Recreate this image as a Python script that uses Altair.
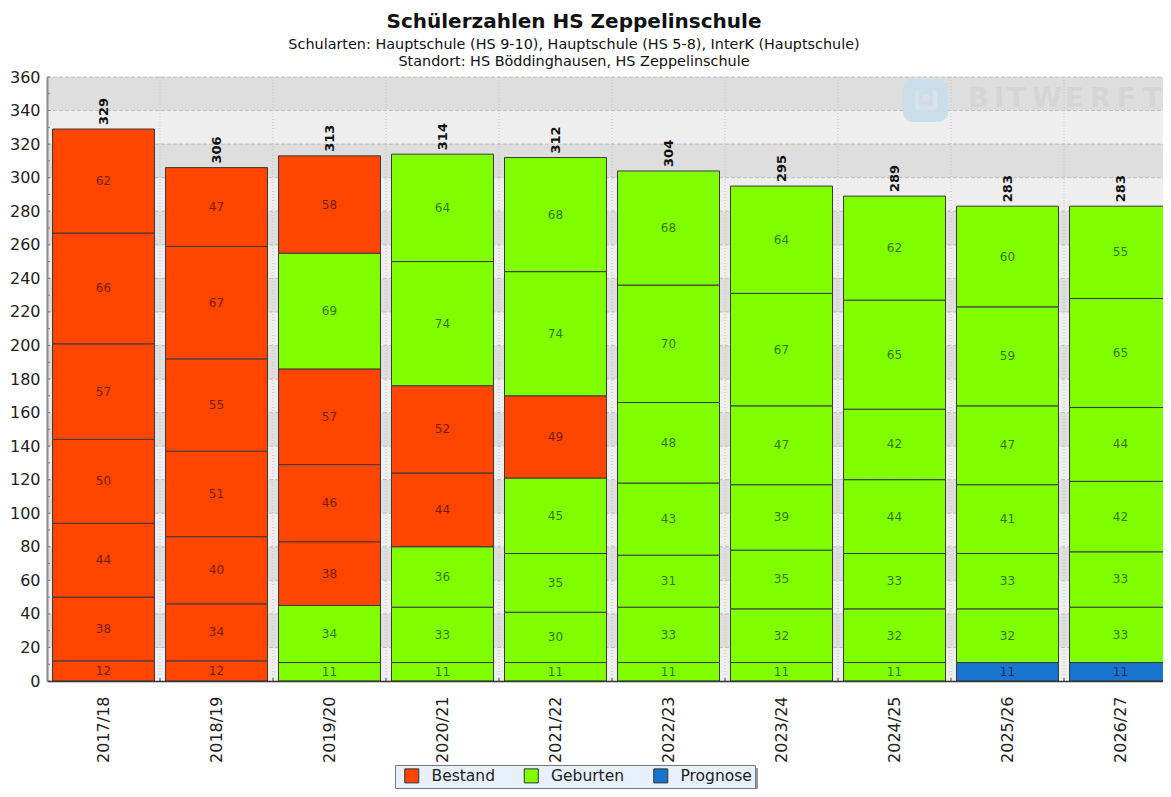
import altair as alt
import pandas as pd

years = ["2017/18","2018/19","2019/20","2020/21","2021/22","2022/23","2023/24","2024/25","2025/26","2026/27"]
values = [
    [12,38,44,50,57,66,62],
    [12,34,40,51,55,67,47],
    [11,34,38,46,57,69,58],
    [11,33,36,44,52,74,64],
    [11,30,35,45,49,74,68],
    [11,33,31,43,48,70,68],
    [11,32,35,39,47,67,64],
    [11,32,33,44,42,65,62],
    [11,32,33,41,47,59,60],
    [11,33,33,42,44,65,55],
]
kinds = [
    "BBBBBBB",
    "BBBBBBB",
    "GGBBBGB",
    "GGGBBGG",
    "GGGGBGG",
    "GGGGGGG",
    "GGGGGGG",
    "GGGGGGG",
    "PGGGGGG",
    "PGGGGGG",
]
kind_names = {"B": "Bestand", "G": "Geburten", "P": "Prognose"}
legend_order = ["Bestand", "Geburten", "Prognose"]
colors = ["#ff4500", "#7fff00", "#1874cd"]
title_text = "Schülerzahlen HS Zeppelinschule"
subtitle_lines = ["Schularten: Hauptschule (HS 9-10), Hauptschule (HS 5-8), InterK (Hauptschule)",
                  "Standort: HS Böddinghausen, HS Zeppelinschule"]
y_ticks = list(range(0, 361, 20))
y_minor = list(range(10, 360, 20))
wm_letters = list("BITWERFT")
wm_x = [921, 947, 960, 985, 1018, 1043, 1070, 1096]

W, H = 1116, 604
FONT = "DejaVu Sans"

rows, totals = [], []
for yr, vals, ks in zip(years, values, kinds):
    c = 0
    for i, (v, k) in enumerate(zip(vals, ks)):
        rows.append(dict(year=yr, seg=i, val=v, kind=kind_names[k], y0=c, y1=c + v, mid=c + v / 2))
        c += v
    totals.append(dict(year=yr, total=c))
df = pd.DataFrame(rows)
tot = pd.DataFrame(totals)

qx = alt.Scale(domain=[0, 10], range=[0, 1130])
bx = alt.Scale(domain=years, range=[0, 1130], paddingInner=0, paddingOuter=0)
ys = alt.Scale(domain=[0, 360], nice=False, zero=True)
yaxis = alt.Axis(title=None, values=y_ticks, labelFontSize=16, labelFont=FONT, labelColor="#222222", ticks=False,
                 labelPadding=7, domainColor="#888888", domainWidth=2, grid=False, zindex=1)


def Y(field):
    return alt.Y(field, scale=ys, axis=yaxis)


stripes = pd.DataFrame([dict(a=0, b=10, lo=v, hi=v + 20, tone="d" if (v // 20) % 2 else "l") for v in y_ticks[:-1]])
bg = alt.Chart(stripes).mark_rect(strokeWidth=0).encode(
    x=alt.X("a:Q", scale=qx, axis=None),
    x2="b:Q",
    y=Y("lo:Q"),
    y2="hi:Q",
    color=alt.Color("tone:N", scale=alt.Scale(domain=["d", "l"], range=["#dedede", "#eeeeee"]), legend=None),
)

hgrid = alt.Chart(pd.DataFrame(dict(v=y_ticks[1:], a=0, b=10))).mark_rule(color="#c0c0c0", strokeDash=[4, 2], strokeWidth=1).encode(
    x=alt.X("a:Q", scale=qx, axis=None), x2="b:Q", y=Y("v:Q"))
vgrid = alt.Chart(pd.DataFrame(dict(b=list(range(1, 10))))).mark_rule(color="#c4c4c4", strokeDash=[1, 2], strokeWidth=1).encode(
    x=alt.X("b:Q", scale=qx, axis=None))

xticks = alt.Chart(pd.DataFrame(dict(b=list(range(1, 10))))).mark_rule(color="#444444", strokeWidth=1).encode(
    x=alt.X("b:Q", scale=qx, axis=None), y=alt.value(H - 3), y2=alt.value(H))
ymaj = alt.Chart(pd.DataFrame(dict(v=y_ticks))).mark_rule(color="#777777", strokeWidth=1).encode(
    x=alt.value(0), x2=alt.value(3), y=Y("v:Q"))
ymin = alt.Chart(pd.DataFrame(dict(v=y_minor))).mark_rule(color="#777777", strokeWidth=1).encode(
    x=alt.value(0), x2=alt.value(3), y=Y("v:Q"))

# watermark
wm_base = alt.Chart(pd.DataFrame(dict(n=[0])))
logo = wm_base.mark_rect(color="#c9dfe9", cornerRadius=10).encode(
    x=alt.value(856), x2=alt.value(901), y=alt.value(2), y2=alt.value(45))
logo_in = wm_base.mark_rect(color="#dde1e3", cornerRadius=3).encode(
    x=alt.value(868), x2=alt.value(890), y=alt.value(13), y2=alt.value(33))
logo_in2 = wm_base.mark_rect(color="#c9dfe9").encode(
    x=alt.value(872), x2=alt.value(886), y=alt.value(11), y2=alt.value(29))
logo_dot = wm_base.mark_point(color="#d9dfe2", filled=True, size=70, opacity=1).encode(
    x=alt.value(879), y=alt.value(21))
wm_df = pd.DataFrame(dict(ch=wm_letters, px=wm_x))
wm_text = alt.Chart(wm_df).mark_text(font=FONT, fontWeight="bold", fontSize=27, color="#d5d5d5", align="left", baseline="middle").encode(
    x=alt.X("px:Q", scale=None, axis=None), y=alt.value(22), text="ch:N")

bars = alt.Chart(df).mark_bar(size=102, stroke="#3a3a3a", strokeWidth=1, strokeOpacity=1).encode(
    x=alt.X("year:N", scale=bx, sort=years, axis=alt.Axis(
        title=None, labelAngle=270, labelAlign="right", labelBaseline="middle", labelFontSize=16, labelFont=FONT,
        labelColor="#222222", labelPadding=15, ticks=False, domainColor="#333333", domainWidth=1.5, grid=False, zindex=1, labelOverlap=False)),
    y=Y("y1:Q"),
    y2="y0:Q",
    color=alt.Color("kind:N", scale=alt.Scale(domain=legend_order, range=colors), legend=alt.Legend(
        title=None, orient="none", legendX=348, legendY=688, direction="horizontal", symbolType="square", symbolSize=196,
        symbolStrokeColor="#333333", symbolStrokeWidth=1, labelFont=FONT, labelFontSize=15.5, labelColor="#222222",
        fillColor="#e8f1fb", strokeColor="#777777", padding=3, columnPadding=22.5, labelOffset=12, symbolOffset=6, symbolOpacity=1)),
    order=alt.Order("seg:Q"),
)

seglabels = alt.Chart(df).mark_text(font=FONT, fontSize=12, color="#000000", opacity=0.55, baseline="middle").encode(
    x=alt.X("year:N", scale=bx, sort=years, axis=None),
    y=Y("mid:Q"),
    text="val:Q",
)
totlabels = alt.Chart(tot).mark_text(font=FONT, fontSize=13, fontWeight="bold", color="#111111", angle=270, align="left", baseline="middle", dx=4).encode(
    x=alt.X("year:N", scale=bx, sort=years, axis=None),
    y=Y("total:Q"),
    text="total:Q",
)

shadow = wm_base.mark_rect(color="#9a9a9a").encode(x=alt.value(351), x2=alt.value(711), y=alt.value(691), y2=alt.value(712))

chart = alt.layer(bg, hgrid, vgrid, logo, logo_in, logo_in2, logo_dot, wm_text, bars, seglabels, totlabels, xticks, ymaj, ymin, shadow).resolve_scale(
    x="independent", color="independent"
).properties(
    width=W, height=H, padding=dict(left=39, right=0, top=69, bottom=108),
    autosize=alt.AutoSizeParams(type="none"),
    title=alt.TitleParams(title_text, subtitle=subtitle_lines, anchor="middle", dx=-31, font=FONT, fontSize=20, fontWeight="bold",
                          color="#111111", subtitleFont=FONT, subtitleFontSize=14.4, subtitleColor="#111111", subtitlePadding=6,
                          subtitleLineHeight=17, offset=1),
).configure_view(stroke=None)

chart.save("out.html", embed_options={"renderer": "svg", "actions": False})
